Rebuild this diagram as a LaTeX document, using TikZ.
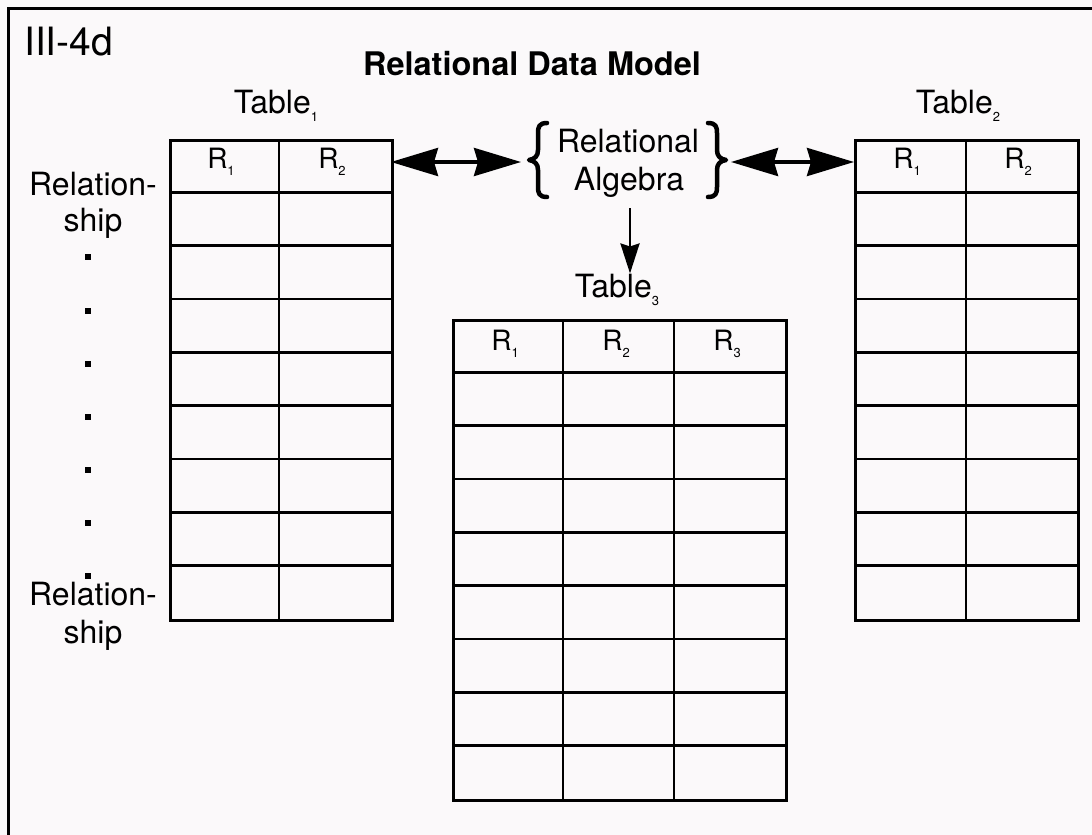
\documentclass[tikz,border=0pt]{standalone}
\usepackage{fontspec}
\setmainfont{TeX Gyre Heros}
\usetikzlibrary{arrows.meta}
\definecolor{paper}{RGB}{251,249,250}
\newcommand\lowidx[1]{\raisebox{-0.28em}{\fontsize{13}{13}\selectfont #1}}
\newcommand\txt{\fontsize{32}{38}\selectfont}
\newcommand\hdr{\fontsize{28}{32}\selectfont}
\begin{document}
\begin{tikzpicture}[x=1pt,y=-1pt,
  tblbox/.style={draw,line width=2.6pt,minimum width=#1,inner sep=0pt,anchor=north west,minimum height=480pt},
  gridline/.style={line width=2.6pt},
  lbl/.style={anchor=base,inner sep=0pt,font=\txt},
  head/.style={anchor=base,inner sep=0pt,font=\hdr},
  bigarrow/.style={line width=3.5pt,{Stealth[length=47pt,width=28pt,inset=4pt]}-{Stealth[length=47pt,width=28pt,inset=4pt]}},
  downarrow/.style={line width=2.8pt,-{Stealth[length=30pt,width=19pt,inset=3pt]}},
  bracepath/.style={line width=4.5pt,line cap=round,line join=round},
  dot/.style={fill,minimum size=5.5pt,inner sep=0pt}]
\useasboundingbox (0,0) rectangle (1092,835);
\fill[paper] (0,0) rectangle (1092,835);

% outer frame (only left and top edges fall inside the page)
\draw[line width=3.5pt] (8.5,850) -- (8.5,8.5) -- (1100,8.5);

% captions
\node[anchor=base west,inner sep=0pt,font=\fontsize{39}{44}\selectfont] (fig) at (24,55) {III-4d};
\node[anchor=base,inner sep=0pt,font=\fontsize{32.5}{38}\selectfont\bfseries] (title) at (532,75) {Relational Data Model};

% Table 1
\node[lbl] (cap1) at (276,113) {Table\lowidx{1}};
\node[tblbox=222pt] (t1) at (169,139) {};
\foreach \i in {1,...,8} \draw[gridline] (169,{139+\i*53.33}) -- (391,{139+\i*53.33});
\draw[gridline] (279,139) -- (279,619);
\coordinate (h1) at (391,162);
\node[head] (t1r1) at (221,168) {R\lowidx{1}};
\node[head] (t1r2) at (332,168) {R\lowidx{2}};

% Table 2
\node[lbl] (cap2) at (958,113) {Table\lowidx{2}};
\node[tblbox=223pt] (t2) at (854,139) {};
\foreach \i in {1,...,8} \draw[gridline] (854,{139+\i*53.33}) -- (1077,{139+\i*53.33});
\draw[gridline] (966,139) -- (966,619);
\coordinate (h2) at (854,162);
\node[head] (t2r1) at (907,168) {R\lowidx{1}};
\node[head] (t2r2) at (1018,168) {R\lowidx{2}};

% Table 3
\node[lbl] (cap3) at (617,297) {Table\lowidx{3}};
\node[tblbox=333pt] (t3) at (452,319) {};
\foreach \i in {1,...,8} \draw[gridline] (452,{319+\i*53.33}) -- (785,{319+\i*53.33});
\draw[gridline] (563,319) -- (563,799);
\draw[gridline] (674,319) -- (674,799);
\node[head] (t3r1) at (505,350) {R\lowidx{1}};
\node[head] (t3r2) at (616,350) {R\lowidx{2}};
\node[head] (t3r3) at (727,350) {R\lowidx{3}};

% relational algebra with braces
\node[lbl] (alg1) at (628,152) {Relational};
\node[lbl] (alg2) at (629,190) {Algebra};
\draw[bracepath] (547,123) .. controls (539,123) and (538,127) .. (538,133) -- (538,150)
  .. controls (538,156) and (535,159) .. (529,160)
  .. controls (535,161) and (538,164) .. (538,170) -- (538,187)
  .. controls (538,193) and (539,197) .. (547,197);
\draw[bracepath] (708,123) .. controls (716,123) and (717,127) .. (717,133) -- (717,150)
  .. controls (717,156) and (720,159) .. (726,160)
  .. controls (720,161) and (717,164) .. (717,170) -- (717,187)
  .. controls (717,193) and (716,197) .. (708,197);
\coordinate (lb) at (521,162);
\coordinate (rb) at (731,162);
\coordinate (algbot) at (630,208);

% connectors
\draw[bigarrow] (h1) -- (lb);
\draw[bigarrow] (rb) -- (h2);
\draw[downarrow] (algbot) -- (cap3.north -| algbot);

% relationship labels and ellipsis
\node[lbl] (rel1a) at (93,195) {Relation-};
\node[lbl] (rel1b) at (93,231) {ship};
\foreach \y in {257,311,364,417,470,523,576} \node[dot] at (88,\y) {};
\node[lbl] (rel2a) at (93,605) {Relation-};
\node[lbl] (rel2b) at (93,643) {ship};
\end{tikzpicture}
\end{document}
